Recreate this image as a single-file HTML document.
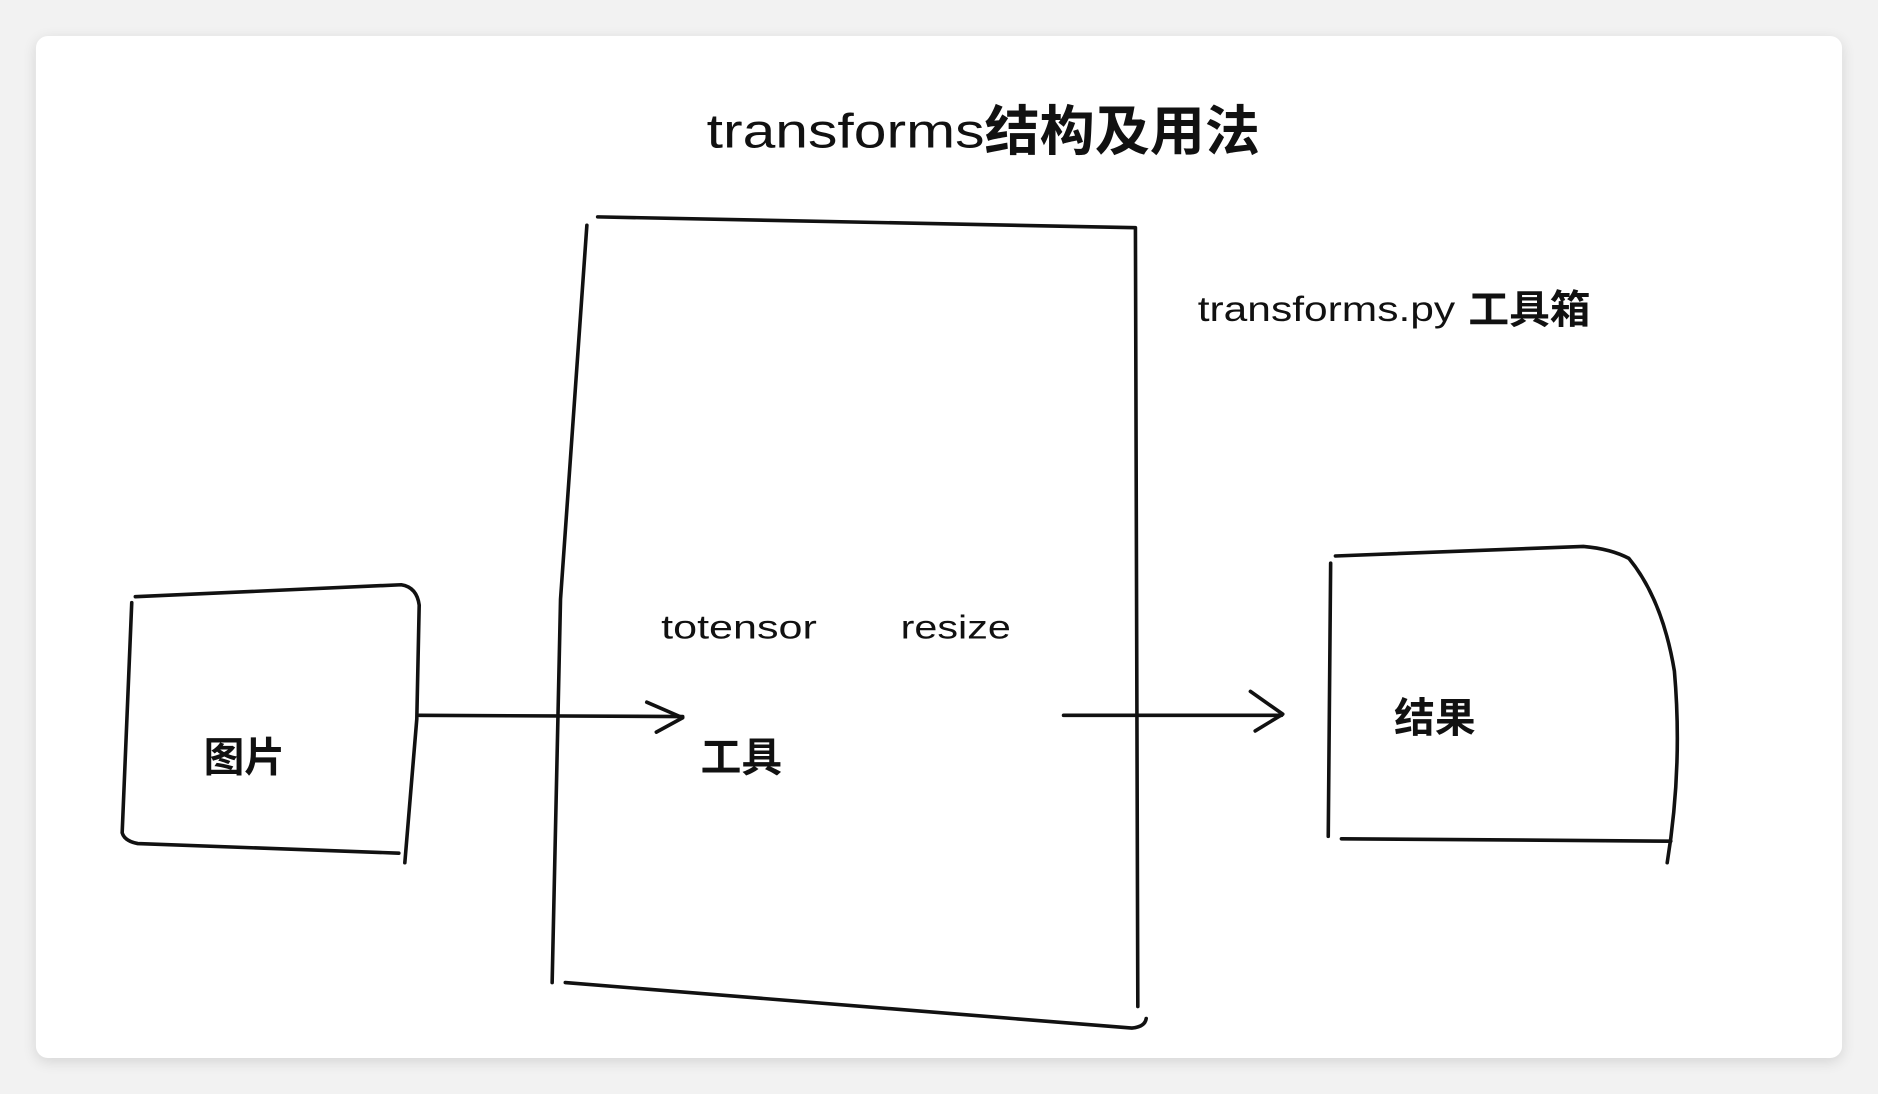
<!DOCTYPE html>
<html><head><meta charset="utf-8"><style>
html,body{margin:0;padding:0;background:#f2f2f2;}
svg{display:block}
text{font-family:"Liberation Sans","Noto Sans CJK SC",sans-serif;fill:#111}
.b{font-weight:700}
</style></head><body>
<svg width="1878" height="1094" viewBox="0 0 1568 913" preserveAspectRatio="none" xmlns="http://www.w3.org/2000/svg">
<defs><filter id="s" x="-5%" y="-5%" width="110%" height="110%"><feGaussianBlur stdDeviation="6"/></filter></defs>
<rect x="30" y="33" width="1508" height="853" rx="10" fill="#000" opacity="0.12" filter="url(#s)"/>
<rect x="30" y="30" width="1508" height="853" rx="10" fill="#fff"/>
<g fill="none" stroke="#111" stroke-width="3" stroke-linecap="round" stroke-linejoin="round">
<path d="M113 498 L335 488 Q348 490 350 505 L348 600 L338 720"/>
<path d="M110 503 L102 695 Q104 702 115 704 L333 712"/>
<path d="M499 181 L948 190 L950 840"/>
<path d="M490 188 L468 500 L461 820"/>
<path d="M472 820 L945 858 Q956 857 957 850"/>
<path d="M1115 464 L1322 456 Q1345 458 1360 466 Q1388 500 1398 560 Q1405 640 1392 720"/>
<path d="M1111 470 L1109 698"/>
<path d="M1120 700 L1395 702"/>
<path d="M350 597 L570 598"/>
<path d="M540 586 L570 599 L548 611"/>
<path d="M888 597 L1070 597"/>
<path d="M1044 577 L1071 596 L1048 610"/>
</g>
<text x="590" y="123" font-size="40" textLength="232" lengthAdjust="spacingAndGlyphs">transforms</text>
<text x="822" y="125" font-size="45" class="b" textLength="230" lengthAdjust="spacingAndGlyphs">结构及用法</text>
<text x="1000" y="268" font-size="29" textLength="215" lengthAdjust="spacingAndGlyphs">transforms.py</text>
<text x="1226" y="270" font-size="33" class="b" textLength="102" lengthAdjust="spacingAndGlyphs">工具箱</text>
<text x="552" y="533" font-size="28" textLength="130" lengthAdjust="spacingAndGlyphs">totensor</text>
<text x="752" y="533" font-size="28" textLength="92" lengthAdjust="spacingAndGlyphs">resize</text>
<text x="170" y="644" font-size="34" class="b" textLength="68" lengthAdjust="spacingAndGlyphs">图片</text>
<text x="585" y="644" font-size="34" class="b" textLength="68" lengthAdjust="spacingAndGlyphs">工具</text>
<text x="1164" y="611" font-size="34" class="b" textLength="68" lengthAdjust="spacingAndGlyphs">结果</text>
</svg>
</body></html>
